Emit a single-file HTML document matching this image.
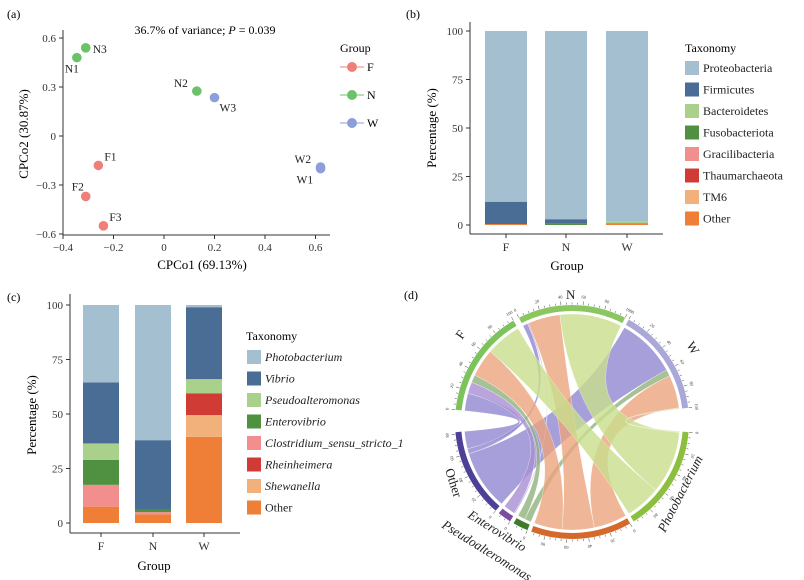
<!DOCTYPE html>
<html><head><meta charset="utf-8"><style>
html,body{margin:0;padding:0;background:#fff;}
svg{display:block;font-family:"Liberation Serif",serif;}
</style></head><body>
<svg id="fig" width="804" height="580" viewBox="0 0 804 580" xmlns="http://www.w3.org/2000/svg">
<rect width="804" height="580" fill="#fff"/>
<g id="pa">
<text x="7" y="18" font-size="12">(a)</text>
<text x="205" y="34" font-size="12" text-anchor="middle">36.7% of variance; <tspan font-style="italic">P</tspan> = 0.039</text>
<line x1="63" y1="30" x2="63" y2="235" stroke="#333"/>
<line x1="63" y1="235" x2="330" y2="235" stroke="#333"/>
<text x="202" y="269" font-size="13" text-anchor="middle">CPCo1 (69.13%)</text>
<text transform="translate(28,134) rotate(-90)" font-size="13" text-anchor="middle">CPCo2 (30.87%)</text>
<text x="340" y="52" font-size="12">Group</text>
</g>
<g id="pb">
<text x="406" y="18" font-size="12">(b)</text>
<line x1="470" y1="22" x2="470" y2="234" stroke="#333"/>
<line x1="470" y1="234" x2="663" y2="234" stroke="#333"/>
<text x="567" y="270" font-size="13" text-anchor="middle">Group</text>
<text transform="translate(436,128) rotate(-90)" font-size="13" text-anchor="middle">Percentage (%)</text>
<text x="685" y="52" font-size="12">Taxonomy</text>
</g>
<g id="pc">
<text x="7" y="301" font-size="12">(c)</text>
<line x1="70" y1="294" x2="70" y2="533" stroke="#333"/>
<line x1="70" y1="533" x2="240" y2="533" stroke="#333"/>
<text x="154" y="570" font-size="13" text-anchor="middle">Group</text>
<text transform="translate(36,415) rotate(-90)" font-size="13" text-anchor="middle">Percentage (%)</text>
<text x="246" y="340" font-size="12">Taxonomy</text>
</g>
<g id="pd">
<text x="404" y="299" font-size="12">(d)</text>
</g>
</svg>
<script>
// ---- panel a data ----
const pcoaNames = ["N3","N1","N2","W3","W2","W1","F1","F2","F3"];
const pcoaGroups = ["N","N","N","W","W","W","F","F","F"];
const pcoaX = [-0.31,-0.345,0.13,0.2,0.62,0.62,-0.26,-0.31,-0.24];
const pcoaY = [0.54,0.48,0.275,0.235,-0.19,-0.2,-0.18,-0.37,-0.55];
const pcoaXTicks = [-0.4,-0.2,0,0.2,0.4,0.6];
const pcoaXTickLabels = ["−0.4","−0.2","0","0.2","0.4","0.6"];
const pcoaYTicks = [0.6,0.3,0,-0.3,-0.6];
const pcoaYTickLabels = ["0.6","0.3","0","−0.3","−0.6"];
const groupNames = ["F","N","W"];
// ---- panel b data ----
const barGroups = ["F","N","W"];
const phyla = ["Proteobacteria","Firmicutes","Bacteroidetes","Fusobacteriota","Gracilibacteria","Thaumarchaeota","TM6","Other"];
const phylumF = [88,11.5,0,0,0,0,0,0.5];
const phylumN = [97,2,0,1,0,0,0,0];
const phylumW = [98,0,1,0,0,0,0,1];
const pctTicks = [0,25,50,75,100];
// ---- panel c data ----
const genera = ["Photobacterium","Vibrio","Pseudoalteromonas","Enterovibrio","Clostridium_sensu_stricto_1","Rheinheimera","Shewanella","Other"];
const genusF = [35.5,28,7.5,11.5,10,0,0,7.5];
const genusN = [62,32,0,1,1,0,0,4];
const genusW = [1,33,6.5,0,0,10,10,39.5];
// ---- panel d data ----
const chordGenera = ["Photobacterium","Vibrio","Pseudoalteromonas","Enterovibrio","Other"];
const chordF = [35.5,28,7.5,11.5,17.5];
const chordN = [62,32,0,1,5];
const chordW = [1,33,6.5,0,59.5];

const NS="http://www.w3.org/2000/svg";
function mk(parent,tag,attrs,txt){const e=document.createElementNS(NS,tag);for(const k in attrs)e.setAttribute(k,attrs[k]);if(txt!==undefined)e.textContent=txt;parent.appendChild(e);return e;}
const groupColor={F:"#ef7f77",N:"#6cc26a",W:"#8d9fda"};
const segColors=["#a4bfcf","#4a6d96","#a9d18c","#4f9140","#f28e8d","#d13b35","#f2b17b","#ef7e37"];

// ===== Panel a =====
const pa=document.getElementById("pa");
const ax=v=>164+v*252.5, ay=v=>136-v*163.3;
pcoaXTicks.forEach((t,i)=>{
 const l=mk(pa,"line",{x1:ax(t),x2:ax(t),y1:235,y2:239,stroke:"#333"});
 
 
 const tx=mk(pa,"text",{x:ax(t),y:251,"font-size":11,"text-anchor":"middle",fill:"#333"},pcoaXTickLabels[i]);
 
 
});
pcoaYTicks.forEach((t,i)=>{
 const l=mk(pa,"line",{x1:59,x2:63,y1:ay(t),y2:ay(t),stroke:"#333"});
 
 
 const tx=mk(pa,"text",{x:56,y:ay(t)+4,"font-size":11,"text-anchor":"end",fill:"#333"},pcoaYTickLabels[i]);
 
 
});
const lblOff={N3:[7,5,"start"],N1:[-12,15,"start"],N2:[-23,-4,"start"],W3:[5,14,"start"],W2:[-26,-4,"start"],W1:[-24,15,"start"],F1:[6,-5,"start"],F2:[-14,-6,"start"],F3:[6,-5,"start"]};
pcoaNames.forEach((n,i)=>{
 const x=ax(pcoaX[i]),y=ay(pcoaY[i]);
 const c=mk(pa,"circle",{cx:x,cy:y,r:4.8,fill:groupColor[pcoaGroups[i]]});
 
 
 const o=lblOff[n];
 const t=mk(pa,"text",{x:x+o[0],y:y+o[1],"font-size":11.5,fill:"#222"},n);
 
 
});
groupNames.forEach((g,i)=>{
 const y=67+i*28;
 const l=mk(pa,"line",{x1:340,x2:364,y1:y,y2:y,stroke:groupColor[g],"stroke-width":1});
 
 
 const c=mk(pa,"circle",{cx:352,cy:y,r:5,fill:groupColor[g]});
 
 
 const t=mk(pa,"text",{x:367,y:y+4,"font-size":12},g);
 
 
});

// ===== stacked bars helper =====
function stacked(parent,series,names,cfg){
 const ys=v=>cfg.y0-v*cfg.k;
 pctTicks.forEach(t=>{
  const l=mk(parent,"line",{x1:cfg.ax-4,x2:cfg.ax,y1:ys(t),y2:ys(t),stroke:"#333"});
  
  
  const tx=mk(parent,"text",{x:cfg.ax-7,y:ys(t)+4,"font-size":11,"text-anchor":"end",fill:"#333"},String(t));
  
  
 });
 series.forEach((vals,gi)=>{
  const x=cfg.bx[gi];
  let acc=0;
  for(let s=vals.length-1;s>=0;s--){
   const v=vals[s]; if(v<=0) continue;
   const r=mk(parent,"rect",{x:x,y:ys(acc+v),width:cfg.bw,height:v*cfg.k,fill:segColors[s]});
   
   
   acc+=v;
  }
  const l=mk(parent,"line",{x1:x+cfg.bw/2,x2:x+cfg.bw/2,y1:cfg.axY,y2:cfg.axY+4,stroke:"#333"});
  
  
  const t=mk(parent,"text",{x:x+cfg.bw/2,y:cfg.axY+17,"font-size":12,"text-anchor":"middle",fill:"#333"},barGroups[gi]);
  
  
 });
 names.forEach((n,i)=>{
  const y=cfg.ly+i*cfg.ls;
  const r=mk(parent,"rect",{x:cfg.lx,y:y-7,width:14,height:14,fill:segColors[i]});
  
  
  const t=mk(parent,"text",{x:cfg.lx+18,y:y+4,"font-size":12,"font-style":(cfg.italic&&n!=="Other")?"italic":"normal",fill:"#222"},n);
  
  
 });
}
stacked(document.getElementById("pb"),[phylumF,phylumN,phylumW],phyla,{y0:225,k:1.94,ax:470,axY:234,bx:[485,545,606],bw:42,lx:685,ly:68,ls:21.5,italic:false});
stacked(document.getElementById("pc"),[genusF,genusN,genusW],genera,{y0:523,k:2.18,ax:70,axY:533,bx:[83,135,186],bw:36,lx:247,ly:357,ls:21.5,italic:true});

// ===== Panel d chord =====
const pd=document.getElementById("pd");
const cx=572,cy=422,R=108;
const secNames=["F","N","W"].concat(chordGenera);
const matrix=[chordF,chordN,chordW];
const secVals=[100,100,100].concat(chordGenera.map((g,j)=>matrix.reduce((s,r)=>s+r[j],0)));
const gapsAfter=[3,2,12,2,2,2,2,11];
const totalGap=gapsAfter.reduce((a,b)=>a+b,0);
const totalVal=secVals.reduce((a,b)=>a+b,0);
const dpu=(360-totalGap)/totalVal;
const secColors=["#7dc35b","#8cc660","#aaa8d8","#8dbf3e","#d4692b","#3f7b2b","#7b4ba2","#4c4097"];
const chordColors=["#c9df8c","#eba47d","#8fb27a","#a88fd2","#9187d0"];
const rad=a=>a*Math.PI/180;
const pt=(a,r)=>[cx+r*Math.sin(rad(a)),cy-r*Math.cos(rad(a))];
const secStart=[];let ang=276;
secVals.forEach((v,i)=>{secStart.push(ang);ang+=v*dpu+gapsAfter[i];});
function arcPath(a0,a1,r){const p0=pt(a0,r),p1=pt(a1,r);return `M${p0[0]},${p0[1]} A${r},${r} 0 ${(a1-a0)>180?1:0} 1 ${p1[0]},${p1[1]}`;}
// ring + ticks
secVals.forEach((v,i)=>{
 const a0=secStart[i],a1=a0+v*dpu;
 const p=mk(pd,"path",{d:arcPath(a0,a1,114),fill:"none",stroke:secColors[i],"stroke-width":6});
 
 
 for(let u=0;u<=v+0.01;u+=5){
  const a=a0+u*dpu,major=(u%20===0);
  const q0=pt(a,117.5),q1=pt(a,major?121:119.5);
  const tk=mk(pd,"line",{x1:q0[0],y1:q0[1],x2:q1[0],y2:q1[1],stroke:"#444","stroke-width":0.5});
  
  
  if(major){const q=pt(a,125);
   const tl=mk(pd,"text",{x:q[0],y:q[1],"font-size":4.5,"text-anchor":"middle","dominant-baseline":"middle",fill:"#444",transform:`rotate(${a},${q[0]},${q[1]})`},String(u));
   
   }
 }
});
// chord offsets
const gOff=[0,0,0].map((_,i)=>secStart[i]);
const gPos={};
[0,1,2].forEach(g=>{let a=secStart[g];[4,3,2,1,0].forEach(j=>{gPos[g+"_"+j]=a;a+=matrix[g][j]*dpu;});});
const tPos={};
chordGenera.forEach((_,j)=>{let a=secStart[3+j];[2,1,0].forEach(g=>{tPos[g+"_"+j]=a;a+=matrix[g][j]*dpu;});});
[4,3,2,1,0].forEach(j=>{[0,1,2].forEach(g=>{
 const v=matrix[g][j]; if(v<=0) return;
 const s0=gPos[g+"_"+j],s1=s0+v*dpu,t0=tPos[g+"_"+j],t1=t0+v*dpu;
 const A=pt(s0,R),B=pt(s1,R),C=pt(t0,R),D=pt(t1,R);
 const d=`M${A[0]},${A[1]} A${R},${R} 0 0 1 ${B[0]},${B[1]} Q${cx},${cy} ${C[0]},${C[1]} A${R},${R} 0 0 1 ${D[0]},${D[1]} Q${cx},${cy} ${A[0]},${A[1]}Z`;
 const p=mk(pd,"path",{d:d,fill:chordColors[j],"fill-opacity":0.8,stroke:"#fff","stroke-width":0.3});
 
 
});});
// sector labels
const labs=[["N",566,299,0,"normal"],["F",462,340,-55,"normal"],["W",686,345,58,"normal"],["Other",445,470,72,"normal"],["Enterovibrio",467,517,32,"italic"],["Pseudoalteromonas",441,527,32,"italic"],["Photobacterium",665,533,-63,"italic"]];
labs.forEach(l=>{
 const t=mk(pd,"text",{x:l[1],y:l[2],"font-size":13,"font-style":l[4],fill:"#222",transform:`rotate(${l[3]},${l[1]},${l[2]})`},l[0]);
 
 
});
</script>
</body></html>
